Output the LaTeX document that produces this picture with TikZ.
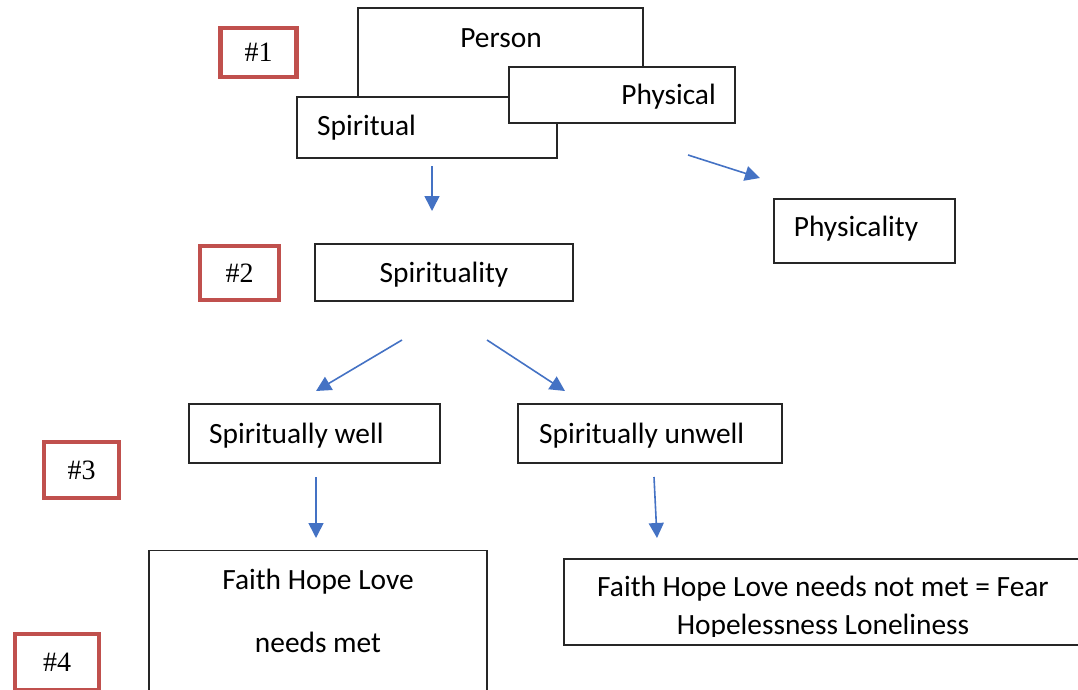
\documentclass[tikz,border=0pt]{standalone}
\usepackage{fontspec}
\setmainfont{Carlito}
\newfontfamily\serifnum{Liberation Serif}
\usetikzlibrary{arrows.meta}
\definecolor{redbox}{RGB}{192,80,77}
\definecolor{arrowblue}{RGB}{68,114,196}
\tikzset{
  box/.style={draw=black!85, line width=1.2pt, fill=white, rectangle, inner sep=0pt},
  tag/.style={draw=redbox, line width=4.3pt, fill=white, rectangle, inner sep=0pt,
    font=\serifnum\fontsize{28}{33}\selectfont},
  lbl/.style={inner sep=0pt, font=\fontsize{29.4}{35}\selectfont},
  flow/.style={draw=arrowblue, line width=1.6pt, -{Triangle[length=15pt,width=15pt]}}
}
\begin{document}
\begin{tikzpicture}[x=1pt,y=-1pt]
\useasboundingbox (0,0) rectangle (1078,690);
% #1 block
\node[tag, minimum width=76, minimum height=49] (t1) at (258.5,52.5) {\#1};
\node[box, minimum width=285, minimum height=100] (person) at (500.5,58) {};
\node[lbl] (personT) at (501,38) {Person};
\node[box, minimum width=260, minimum height=61] (spiritual) at (427,127.5) {};
\node[lbl, anchor=west] (spiritualT) at (317,127.5) {Spiritual};
\node[box, minimum width=226, minimum height=56] (physical) at (622,95) {};
\node[lbl, anchor=east] (physicalT) at (716,97) {Physical};
% arrows level 1
\coordinate (a1s) at (432,166); \coordinate (a1e) at (432,211);
\coordinate (a2s) at (688,155); \coordinate (a2e) at (760,178);
\draw[flow] (a1s) -- (a1e);
\draw[flow] (a2s) -- (a2e);
\node[box, minimum width=181, minimum height=64] (physicality) at (864.5,231) {};
\node[lbl] (physicalityT) at (856,229) {Physicality};
% #2 block
\node[tag, minimum width=79, minimum height=54] (t2) at (239.5,273) {\#2};
\node[box, minimum width=258, minimum height=57] (spirituality) at (444,272.5) {};
\node[lbl] (spiritualityT) at (444,275) {Spirituality};
\coordinate (a3s) at (402,340); \coordinate (a3e) at (316,391);
\coordinate (a4s) at (487,340); \coordinate (a4e) at (565,391);
\draw[flow] (a3s) -- (a3e);
\draw[flow] (a4s) -- (a4e);
% #3 block
\node[tag, minimum width=75, minimum height=56] (t3) at (81.5,470) {\#3};
\node[box, minimum width=251, minimum height=59] (well) at (314.5,433.5) {};
\node[lbl, anchor=west] (wellT) at (209,436) {Spiritually well};
\node[box, minimum width=264, minimum height=59] (unwell) at (650,433.5) {};
\node[lbl, anchor=west] (unwellT) at (539,436) {Spiritually unwell};
\coordinate (a5s) at (316,477); \coordinate (a5e) at (316,538);
\coordinate (a6s) at (654,477); \coordinate (a6e) at (657,538);
\draw[flow] (a5s) -- (a5e);
\draw[flow] (a6s) -- (a6e);
% #4 block
\node[tag, minimum width=84, minimum height=56] (t4) at (57,662) {\#4};
\node[box, minimum width=338, minimum height=140] (met) at (318,620.5) {};
\node[lbl] (metT1) at (318,582) {Faith Hope Love};
\node[lbl] (metT2) at (318,642) {needs met};
\node[box, minimum width=530, minimum height=86] (notmet) at (829,602) {};
\node[lbl] (notmetT1) at (823,589) {Faith Hope Love needs not met = Fear};
\begin{scope}
\clip (565,600) rectangle (1078,636);
\node[lbl] (notmetT2) at (823,627) {Hopelessness Loneliness};
\end{scope}
\end{tikzpicture}
\end{document}
